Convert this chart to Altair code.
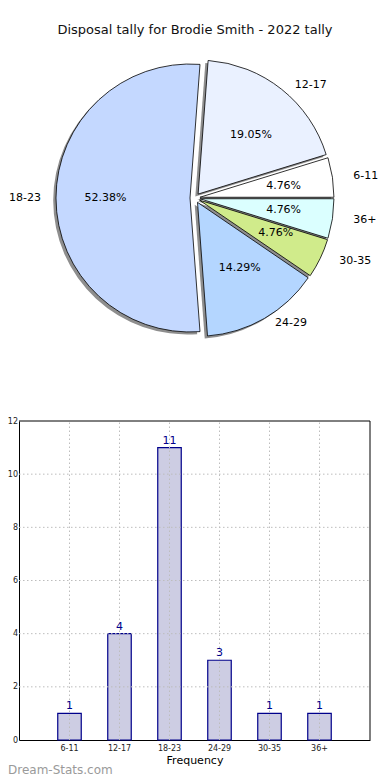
import altair as alt
import pandas as pd

# ---------------- data ----------------
categories = ["6-11", "12-17", "18-23", "24-29", "30-35", "36+"]
counts = [1, 4, 11, 3, 1, 1]
pie_colors = ["#ffffff", "#eaf1ff", "#c4d8ff", "#b4d6ff", "#d0eb8b", "#dbffff"]
y_ticks = [0, 2, 4, 6, 8, 10, 12]
title_text = "Disposal tally for Brodie Smith - 2022 tally"
x_title = "Frequency"
watermark = "Dream-Stats.com"

df = pd.DataFrame({"cat": categories, "count": counts,
                   "order": list(range(len(categories))), "color": pie_colors})

# ---------------- layout constants ----------------
W, H = 351, 732            # view (plot) size; origin at page (19, 8)
CX, CY = 176, 190          # pie centre in view coords
R = 134                    # wedge radius
RX, RY = 141, 127          # label radii (matplotlib ellipse)
EXPL = 5                   # explode distance
FONT = "DejaVu Sans"
YMAX = 12

# ---------------- pie ----------------
pie = (
    alt.Chart(df)
    .transform_joinaggregate(total="sum(count)")
    .transform_window(cum="sum(count)", sort=[alt.SortField("order")], frame=[None, 0])
    .transform_calculate(a1="2*PI*(datum.cum-datum.count)/datum.total")
    .transform_calculate(a2="2*PI*datum.cum/datum.total")
    .transform_calculate(am="(datum.a1+datum.a2)/2")
    .transform_calculate(t1="PI/2 - datum.a2")
    .transform_calculate(t2="PI/2 - datum.a1")
    .transform_calculate(pct="format(100*datum.count/datum.total, '.2f') + '%'")
    .transform_calculate(px=f"{CX} + {EXPL}*cos(datum.am)")
    .transform_calculate(py=f"{CY} - {EXPL}*sin(datum.am)")
    .transform_calculate(sx="datum.px - 2.8")
    .transform_calculate(sy="datum.py + 2.5")
    .transform_calculate(lx=f"datum.px + 1.1*{RX}*cos(datum.am)")
    .transform_calculate(ly=f"datum.py - 1.1*{RY}*sin(datum.am)")
    .transform_calculate(tx=f"datum.px + 0.6*{RX}*cos(datum.am)")
    .transform_calculate(ty=f"datum.py - 0.6*{RY}*sin(datum.am)")
    .transform_calculate(side="cos(datum.am) > 0 ? 1 : 0")
)

shadow = pie.mark_arc(radius=R, fill="#8e8e8e").encode(
    x=alt.X("sx:Q", scale=None, axis=None),
    y=alt.Y("sy:Q", scale=None, axis=None),
    theta=alt.Theta("t1:Q", scale=None, stack=None),
    theta2="t2:Q",
)
wedges = pie.mark_arc(radius=R, stroke="#000000", strokeWidth=0.8).encode(
    x=alt.X("px:Q", scale=None, axis=None),
    y=alt.Y("py:Q", scale=None, axis=None),
    theta=alt.Theta("t1:Q", scale=None, stack=None),
    theta2="t2:Q",
    color=alt.Color("color:N", scale=None),
)
labels_r = pie.transform_filter("datum.side == 1").mark_text(
    align="left", baseline="middle", font=FONT, fontSize=11, color="#000000"
).encode(x=alt.X("lx:Q", scale=None, axis=None), y=alt.Y("ly:Q", scale=None, axis=None), text="cat:N")
# left-side labels kept inside the drawable page area
labels_l = pie.transform_filter("datum.side == 0").transform_calculate(
    lx2="max(datum.lx, 22)"
).mark_text(
    align="right", baseline="middle", font=FONT, fontSize=11, color="#000000"
).encode(x=alt.X("lx2:Q", scale=None, axis=None), y=alt.Y("ly:Q", scale=None, axis=None), text="cat:N")
pcts = pie.mark_text(
    align="center", baseline="middle", font=FONT, fontSize=11, color="#000000"
).encode(x=alt.X("tx:Q", scale=None, axis=None), y=alt.Y("ty:Q", scale=None, axis=None), text="pct:N")

# ---------------- bar chart ----------------
xscale = alt.Scale(domain=categories, paddingInner=0.53, paddingOuter=0.775)
yscale = alt.Scale(domain=[0, YMAX], range=[H, 413], nice=False, zero=True)

bars = alt.Chart(df).mark_bar(fill="#cdcde3", stroke="#00008b", strokeWidth=1.2).encode(
    x=alt.X("cat:N", sort=categories, scale=xscale,
            axis=alt.Axis(title=x_title, labelAngle=0, labelFontSize=8, labelFont=FONT,
                          labelColor="#222222", labelPadding=4, ticks=False, grid=False,
                          domainColor="#000000", domainWidth=1,
                          titleFont=FONT, titleFontSize=11, titleFontWeight="normal",
                          titleColor="#000000", titlePadding=2)),
    y=alt.Y("count:Q", scale=yscale,
            axis=alt.Axis(title=None, values=y_ticks, format="d", labelFontSize=8,
                          labelFont=FONT, labelColor="#222222", labelPadding=1.5,
                          ticks=False, grid=False, domainColor="#000000", domainWidth=1)),
)

hgrid = alt.Chart(pd.DataFrame({"v": y_ticks[1:-1]})).mark_rule(
    color="#bdbdbd", strokeDash=[1.5, 2.5], strokeWidth=1
).encode(y=alt.Y("v:Q", scale=yscale), x=alt.value(0), x2=alt.value(W))

vgrid = alt.Chart(df).mark_rule(
    color="#bdbdbd", strokeDash=[1.5, 2.5], strokeWidth=1
).encode(x=alt.X("cat:N", sort=categories, scale=xscale),
         y=alt.Y("count:Q", scale=yscale), y2=alt.datum(YMAX)).transform_calculate(count="0")

frame_df = pd.DataFrame({"lo": [0], "hi": [YMAX]})
top_border = alt.Chart(frame_df).mark_rule(color="#000000", strokeWidth=1).encode(
    y=alt.Y("hi:Q", scale=yscale), x=alt.value(0), x2=alt.value(W))
right_border = alt.Chart(frame_df).mark_rule(color="#000000", strokeWidth=1).encode(
    y=alt.Y("lo:Q", scale=yscale), y2="hi:Q", x=alt.value(W))

bar_text = alt.Chart(df).mark_text(
    baseline="bottom", dy=-2, font=FONT, fontSize=11, color="#00008b"
).encode(x=alt.X("cat:N", sort=categories, scale=xscale),
         y=alt.Y("count:Q", scale=yscale), text="count:Q")

# ---------------- texts ----------------
title = alt.Chart(pd.DataFrame({"t": [title_text]})).mark_text(
    align="center", baseline="middle", font=FONT, fontSize=13, color="#111111"
).encode(x=alt.value(CX), y=alt.value(22), text="t:N")

wm = alt.Chart(pd.DataFrame({"t": [watermark]})).mark_text(
    align="left", baseline="middle", font=FONT, fontSize=12, color="#9a9a9a"
).encode(x=alt.value(-11), y=alt.value(762), text="t:N")

chart = alt.layer(
    bars, hgrid, vgrid, top_border, right_border, bar_text,
    shadow, wedges, labels_r, labels_l, pcts, title, wm,
).properties(
    width=W, height=H,
    autosize=alt.AutoSizeParams(type="none"),
    padding={"left": 11, "top": 0, "right": 12, "bottom": 40},
).configure_view(stroke=None)

chart.save("out.html", embed_options={"renderer": "svg", "actions": False})
